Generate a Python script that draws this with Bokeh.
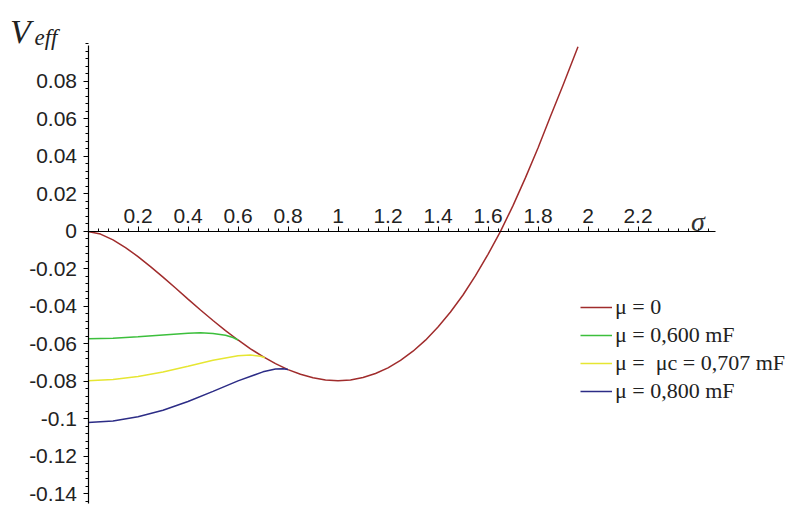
from bokeh.plotting import figure
from bokeh.models import FixedTicker, Label, Legend, LegendItem, Range1d
from bokeh.embed import file_html
from bokeh.resources import INLINE

# Effective potential curves V_eff(sigma) for several chemical potentials
sigma_mu0 = [0, 0.05, 0.1, 0.15, 0.2, 0.25, 0.3, 0.35, 0.4, 0.45, 0.5, 0.55, 0.6, 0.65,
             0.7, 0.75, 0.8, 0.85, 0.9, 0.95, 1.0, 1.05, 1.1, 1.15, 1.2, 1.25, 1.3, 1.35,
             1.4, 1.45, 1.5, 1.55, 1.6, 1.65, 1.7, 1.75, 1.8, 1.85, 1.9, 1.96]
veff_mu0 = [0, -0.0014, -0.0045, -0.0086, -0.0134, -0.0188, -0.0244, -0.0302, -0.0361,
            -0.0419, -0.0475, -0.0529, -0.0579, -0.0626, -0.0668, -0.0705, -0.0737,
            -0.0762, -0.0780, -0.0792, -0.0796, -0.0792, -0.0779, -0.0758, -0.0728,
            -0.0688, -0.0639, -0.0580, -0.0510, -0.0430, -0.0339, -0.0236, -0.0122,
            0.0000, 0.0138, 0.0287, 0.0445, 0.0615, 0.0780, 0.0985]

sigma_mu600 = [0, 0.1, 0.2, 0.3, 0.4, 0.45, 0.5, 0.55, 0.58, 0.6]
veff_mu600 = [-0.0573, -0.0570, -0.0562, -0.0552, -0.0543, -0.0541, -0.0544, -0.0554,
              -0.0566, -0.0579]

sigma_mu707 = [0, 0.1, 0.2, 0.3, 0.4, 0.5, 0.6, 0.65, 0.69, 0.707]
veff_mu707 = [-0.0796, -0.0790, -0.0774, -0.0750, -0.0719, -0.0687, -0.0663, -0.0659,
              -0.0666, -0.0674]

sigma_mu800 = [0, 0.1, 0.2, 0.3, 0.4, 0.5, 0.6, 0.7, 0.75, 0.78, 0.8]
veff_mu800 = [-0.1019, -0.1011, -0.0989, -0.0954, -0.0907, -0.0853, -0.0797, -0.0749,
              -0.0734, -0.0732, -0.0737]

series_labels = ["\u03bc = 0", "\u03bc = 0,600 mF", "\u03bc =  \u03bcc = 0,707 mF",
                 "\u03bc = 0,800 mF"]

x_ticks = [0.2, 0.4, 0.6, 0.8, 1.0, 1.2, 1.4, 1.6, 1.8, 2.0, 2.2]
x_tick_labels = ["0.2", "0.4", "0.6", "0.8", "1", "1.2", "1.4", "1.6", "1.8", "2", "2.2"]
y_ticks = [0.08, 0.06, 0.04, 0.02, 0.0, -0.02, -0.04, -0.06, -0.08, -0.1, -0.12, -0.14]
y_tick_labels = ["0.08", "0.06", "0.04", "0.02", "0", "-0.02", "-0.04", "-0.06",
                 "-0.08", "-0.1", "-0.12", "-0.14"]

colors = ["#a02c2c", "#3cbf3c", "#e6e632", "#2c2c86"]

# the frame fills the whole canvas; both axes sit at fixed data positions
p = figure(width=791, height=514, output_backend="svg", toolbar_location=None,
           x_range=Range1d(-0.35, 2.814), y_range=Range1d(-0.1510, 0.1232),
           x_axis_location="above",
           min_border_left=0, min_border_right=0, min_border_top=0,
           min_border_bottom=0)
p.outline_line_color = None
p.xgrid.visible = False
p.ygrid.visible = False
p.background_fill_color = "white"

tick_font = "Liberation Sans"

# horizontal axis crossing the vertical one at V_eff = 0
xa = p.xaxis[0]
xa.fixed_location = 0
xa.bounds = (0, 2.51)
xa.ticker = FixedTicker(ticks=x_ticks,
                        minor_ticks=[round(0.04 * i, 2) for i in range(1, 63)])
xa.major_label_overrides = dict(zip(x_ticks, x_tick_labels))
xa.major_label_text_font = tick_font
xa.major_label_text_font_size = "21px"
xa.major_label_text_color = "#222222"
xa.major_tick_out = 5
xa.major_tick_in = 0
xa.minor_tick_out = 3
xa.minor_tick_in = 0
xa.major_label_standoff = 3
xa.axis_line_color = "black"
xa.axis_line_width = 1.2

ya = p.yaxis[0]
ya.fixed_location = 0
ya.bounds = (-0.1451, 0.0992)
ya.ticker = FixedTicker(ticks=y_ticks,
                        minor_ticks=[round(-0.144 + 0.004 * i, 3) for i in range(0, 62)])
ya.major_label_overrides = dict(zip(y_ticks, y_tick_labels))
ya.major_label_text_font = tick_font
ya.major_label_text_font_size = "21px"
ya.major_label_text_color = "#222222"
ya.major_tick_out = 5
ya.major_tick_in = 0
ya.minor_tick_out = 3
ya.minor_tick_in = 0
ya.major_label_standoff = 6
ya.axis_line_color = "black"
ya.axis_line_width = 1.2

curves = [(sigma_mu0, veff_mu0), (sigma_mu600, veff_mu600),
          (sigma_mu707, veff_mu707), (sigma_mu800, veff_mu800)]
renderers = []
for (xs, ys), c in zip(curves, colors):
    renderers.append(p.line(xs, ys, line_color=c, line_width=1.5))

legend = Legend(items=[LegendItem(label=lab, renderers=[r])
                       for lab, r in zip(series_labels, renderers)],
                location=(580, 109))
legend.background_fill_alpha = 0
legend.border_line_color = None
legend.label_text_font = "Liberation Serif"
legend.label_text_font_size = "22px"
legend.label_text_color = "#222222"
legend.glyph_width = 32
legend.glyph_height = 28
legend.label_height = 28
legend.spacing = 0
legend.padding = 0
legend.margin = 0
legend.label_standoff = 3
p.add_layout(legend)

# axis titles
p.add_layout(Label(x=2.44, y=0.0053, text="\u03c3", text_font="Liberation Serif",
                   text_font_style="italic", text_font_size="28px",
                   text_align="center", text_baseline="alphabetic",
                   text_color="#333333"))
p.add_layout(Label(x=-0.312, y=0.1064, text="V", text_font="Liberation Serif",
                   text_font_style="italic", text_font_size="34px",
                   text_baseline="alphabetic", text_color="#222222"))
p.add_layout(Label(x=-0.214, y=0.1036, text="eff", text_font="Liberation Serif",
                   text_font_style="italic", text_font_size="23px",
                   text_baseline="alphabetic", text_color="#222222"))

open("out.html", "w").write(file_html(p, INLINE))
